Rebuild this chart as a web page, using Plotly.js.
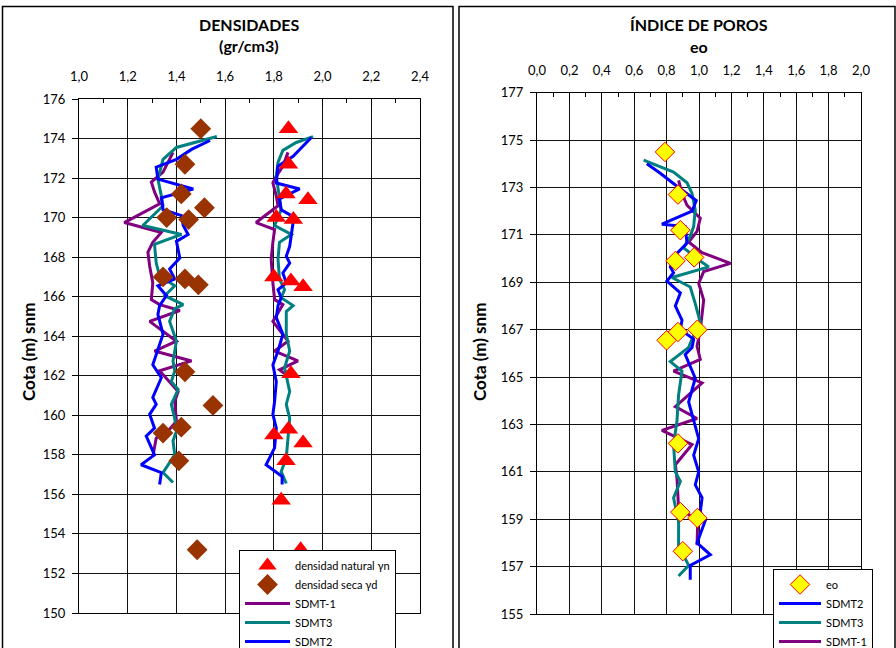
<!DOCTYPE html>
<html>
<head>
<meta charset="utf-8">
<script src="https://cdn.plot.ly/plotly-3.0.1.min.js"></script>
<style>html,body{margin:0;padding:0;background:#fff;}#chart{width:896px;height:648px;}</style>
</head>
<body>
<div id="chart"></div>
<script>
// ---------- DENSIDADES (gr/cm3) ----------
// densidad natural yn (markers)
var ynX = [1.86,1.86,1.85,1.94,1.81,1.88,1.80,1.87,1.92,1.87,1.80,1.86,1.92,1.85,1.83,1.91];
var ynZ = [174.5,172.7,171.2,170.9,170.0,169.9,167.0,166.8,166.5,162.1,159.0,159.3,158.6,157.7,155.7,153.2];
// densidad seca yd (markers)
var ydX = [1.50,1.435,1.42,1.515,1.36,1.45,1.345,1.435,1.49,1.435,1.55,1.42,1.345,1.41,1.485];
var ydZ = [174.5,172.7,171.2,170.5,170.0,169.9,167.0,166.9,166.6,162.2,160.5,159.4,159.1,157.7,153.2];

// SDMT-1 dry / natural
var s1dX = [1.386,1.366,1.345,1.297,1.31,1.331,1.186,1.338,1.303,1.283,1.29,1.303,1.297,1.331,1.414,1.29,1.40,1.31,1.462,1.331,1.407,1.393,1.40,1.372,1.317,1.303];
var s1dZ = [173.3,172.8,172.3,171.8,171.3,170.7,169.75,169.25,168.75,168.25,167.55,166.7,165.85,165.6,165.3,164.75,163.75,163.25,162.75,162.25,161.2,160.7,159.7,159.3,158.85,157.9];
var s1nX = [1.858,1.837,1.81,1.796,1.81,1.817,1.727,1.803,1.796,1.789,1.796,1.803,1.837,1.796,1.858,1.803,1.899,1.823,1.851];
var s1nZ = [173.3,172.6,172.1,171.75,171.1,170.6,169.75,169.4,168.75,167.9,166.7,165.85,165.6,164.75,163.75,163.25,162.75,162.3,162.05];

// SDMT3 dry / natural
var s3dX = [1.566,1.40,1.345,1.324,1.338,1.345,1.262,1.421,1.31,1.317,1.331,1.393,1.352,1.428,1.393,1.372,1.40,1.386,1.393,1.379,1.407,1.379,1.393,1.40,1.386,1.393,1.345,1.386];
var s3dZ = [174.1,173.55,172.95,171.95,171.1,170.6,169.6,169.15,168.65,167.7,167.05,166.55,166.05,165.6,165.4,164.75,163.75,162.75,162.25,161.7,161.3,160.55,159.85,159.2,158.7,158.0,157.1,156.6];
var s3nX = [1.961,1.892,1.837,1.817,1.81,1.823,1.83,1.803,1.872,1.823,1.817,1.823,1.844,1.83,1.879,1.851,1.851,1.865,1.844,1.865,1.851,1.865,1.858,1.851,1.83,1.851];
var s3nZ = [174.1,173.8,173.4,172.8,172.1,171.1,170.4,169.6,169.15,168.75,167.9,166.9,166.35,165.95,165.55,165.25,164.1,163.25,162.4,161.2,160.55,159.85,158.7,157.85,157.15,156.55];

// SDMT2 dry / natural
var s2dX = [1.538,1.462,1.40,1.317,1.324,1.469,1.338,1.345,1.421,1.428,1.448,1.40,1.414,1.372,1.393,1.324,1.359,1.331,1.324,1.345,1.303,1.338,1.303,1.317,1.29,1.31,1.276,1.31,1.255,1.338,1.331];
var s2dZ = [173.9,173.45,172.95,172.55,171.95,171.45,171.0,170.4,170.1,169.6,169.15,168.8,167.95,167.4,166.9,166.55,166.05,165.55,165.1,164.1,162.55,161.9,160.9,160.55,160.05,159.35,158.95,158.0,157.5,157.1,156.5];
var s2nX = [1.954,1.913,1.879,1.817,1.81,1.906,1.823,1.83,1.865,1.879,1.872,1.865,1.851,1.865,1.837,1.851,1.817,1.83,1.817,1.81,1.837,1.817,1.796,1.81,1.803,1.796,1.81,1.803,1.768,1.834,1.834];
var s2nZ = [174.05,173.55,173.1,172.6,171.75,171.45,170.95,170.4,170.15,169.75,169.05,168.55,168.05,167.7,167.2,166.7,166.35,165.95,165.55,164.95,164.1,163.25,162.55,161.7,160.7,160.05,159.35,158.35,157.5,156.9,156.5];

// ---------- ÍNDICE DE POROS eo ----------
var eoX = [0.79,0.87,0.885,0.855,0.97,0.99,0.87,0.80,0.87,0.885,0.99,0.90];
var eoZ = [174.5,172.7,171.2,169.9,170.05,167.0,166.9,166.55,162.2,159.3,159.05,157.65];

var e2X = [0.678,0.761,0.864,0.983,0.957,0.771,0.915,0.926,0.854,0.823,0.843,0.802,0.885,0.854,0.895,0.885,0.967,0.957,0.915,0.977,0.936,0.977,0.998,0.967,0.998,0.977,1.019,1.008,1.039,0.988,1.07,0.946,0.946];
var e2Z = [174.0,173.6,173.05,172.45,172.0,171.45,171.35,170.65,170.15,169.65,169.4,169.05,168.55,168.0,167.4,167.0,166.6,166.25,165.95,164.95,163.95,163.0,162.4,161.7,161.0,160.45,159.9,159.3,158.95,158.0,157.5,157.05,156.45];
var e3X = [0.658,0.843,0.926,0.957,0.977,0.967,0.946,0.905,1.008,1.06,0.833,0.946,0.977,1.008,0.957,0.936,0.823,0.895,0.874,0.864,0.843,0.854,0.885,0.843,0.874,0.874,0.936,0.874];
var e3Z = [174.15,173.65,173.2,172.75,172.05,171.35,170.95,170.45,169.9,169.65,169.2,168.8,168.1,167.3,166.6,166.25,165.65,165.25,164.25,163.15,162.15,161.0,160.6,159.9,158.9,157.9,157.05,156.6];
var e1X = [0.874,0.895,0.926,1.008,0.988,0.936,1.019,1.194,1.029,0.998,1.029,1.019,1.008,0.988,1.008,0.843,1.019,0.854,0.988,0.771,0.916,0.957,0.854,0.864,0.874,0.936,0.992,0.988];
var e1Z = [173.3,172.75,172.25,171.7,171.15,170.7,170.25,169.8,169.45,168.95,168.25,167.55,167.0,166.3,165.75,165.25,164.75,163.75,163.25,162.75,162.3,162.15,161.3,160.75,159.45,159.2,158.9,157.9];

var PURPLE = '#800080', TEAL = '#008080', BLUE = '#0000FF';
var FONT = 'Lato, "Open Sans", sans-serif';

function line(x, y, color, name, show, rank, xa, ya, leg) {
  return {type:'scatter', mode:'lines', x:x, y:y, name:name, showlegend:show,
    legendgroup:name + (leg||''), legendrank:rank, legend: leg || 'legend',
    xaxis:xa, yaxis:ya, line:{color:color, width:3}, hoverinfo:'x+y'};
}

var traces = [
  line(s1dX, s1dZ, PURPLE, 'SDMT-1', true, 3, 'x', 'y'),
  line(s1nX, s1nZ, PURPLE, 'SDMT-1', false, 3, 'x', 'y'),
  line(s3dX, s3dZ, TEAL, 'SDMT3', true, 4, 'x', 'y'),
  line(s3nX, s3nZ, TEAL, 'SDMT3', false, 4, 'x', 'y'),
  line(s2dX, s2dZ, BLUE, 'SDMT2', true, 5, 'x', 'y'),
  line(s2nX, s2nZ, BLUE, 'SDMT2', false, 5, 'x', 'y'),
  {type:'scatter', mode:'markers', x:ynX, y:ynZ, name:'densidad natural γn', legendrank:1,
   xaxis:'x', yaxis:'y', marker:{symbol:'triangle-up', size:17, color:'#FF0000'}},
  {type:'scatter', mode:'markers', x:ydX, y:ydZ, name:'densidad seca γd', legendrank:2,
   xaxis:'x', yaxis:'y', marker:{symbol:'diamond', size:16, color:'#993300'}},

  line(e1X, e1Z, PURPLE, 'SDMT-1', true, 4, 'x2', 'y2', 'legend2'),
  line(e3X, e3Z, TEAL, 'SDMT3', true, 3, 'x2', 'y2', 'legend2'),
  line(e2X, e2Z, BLUE, 'SDMT2', true, 2, 'x2', 'y2', 'legend2'),
  {type:'scatter', mode:'markers', x:eoX, y:eoZ, name:'eo', legendrank:1, legend:'legend2',
   xaxis:'x2', yaxis:'y2', marker:{symbol:'diamond', size:15, color:'#FFFF00', line:{color:'#FF0000', width:1}}}
];

var W = 896, H = 648;
function px(v){return v/W;}
function py(v){return 1 - v/H;}

var xCommon = {side:'top', showgrid:true, gridcolor:'#111', gridwidth:1, showline:true, linecolor:'#000', linewidth:1, mirror:true,
  ticks:'inside', ticklen:7, tickcolor:'#000', dtick:0.2, tickformat:'.1f', ticklabelstandoff:12,
  minor:{ticks:'inside', ticklen:4, dtick:0.1, tickcolor:'#000', showgrid:false},
  tickfont:{family:FONT, size:13, color:'#000'}, zeroline:false, fixedrange:true, automargin:false};
var yCommon = {showgrid:true, gridcolor:'#111', gridwidth:1, showline:true, linecolor:'#000', linewidth:1, mirror:true,
  ticks:'outside', ticklen:6, tickcolor:'#000', dtick:2, ticklabelstandoff:4,
  tickfont:{family:FONT, size:13, color:'#000'}, zeroline:false, fixedrange:true, automargin:false};

function ann(x, y, text, size, angle) {
  return {xref:'paper', yref:'paper', x:px(x), y:py(y), xanchor:'center', yanchor:'middle',
    text:text, textangle:angle || 0, showarrow:false, font:{family:FONT, size:size, color:'#000'}};
}

var layout = {
  width:W, height:H, margin:{l:0, r:0, t:0, b:0, autoexpand:false}, paper_bgcolor:'#fff', plot_bgcolor:'#fff',
  separators:',.', font:{family:FONT, color:'#000'},
  xaxis: Object.assign({}, xCommon, {domain:[px(79), px(420)], range:[1.0, 2.4], anchor:'y'}),
  yaxis: Object.assign({}, yCommon, {domain:[py(613), py(99)], range:[150, 176], tick0:150, anchor:'x'}),
  xaxis2: Object.assign({}, xCommon, {domain:[px(537), px(861)], range:[0, 2.0], anchor:'y2'}),
  yaxis2: Object.assign({}, yCommon, {domain:[py(614), py(92.7)], range:[155, 177], tick0:155, anchor:'x2'}),
  legend: {x:px(239), y:py(550), xanchor:'left', yanchor:'top', bgcolor:'#fff', bordercolor:'#000', borderwidth:1,
    font:{family:FONT, size:11, color:'#000'}, tracegroupgap:0, traceorder:'normal', itemwidth:45},
  legend2: {x:px(773), y:py(569), xanchor:'left', yanchor:'top', bgcolor:'#fff', bordercolor:'#000', borderwidth:1,
    font:{family:FONT, size:11, color:'#000'}, tracegroupgap:0, traceorder:'normal', itemwidth:42},
  shapes: [
    {type:'rect', xref:'paper', yref:'paper', x0:px(2.5), x1:px(453), y0:-0.05, y1:py(6.5), line:{color:'#000', width:1.5}, layer:'below'},
    {type:'rect', xref:'paper', yref:'paper', x0:px(459), x1:px(895), y0:-0.05, y1:py(6.5), line:{color:'#000', width:1.5}, layer:'below'}
  ],
  annotations: [
    ann(249, 25, '<b>DENSIDADES</b>', 16),
    ann(249, 46, '<b>(gr/cm3)</b>', 16),
    ann(699, 25, '<b>ÍNDICE DE POROS</b>', 16),
    ann(699, 47, '<b>eo</b>', 16),
    ann(28, 352, '<b>Cota (m) snm</b>', 17, -90),
    ann(479, 352, '<b>Cota (m) snm</b>', 17, -90)
  ]
};

Plotly.newPlot('chart', traces, layout, {displayModeBar:false, staticPlot:true});
</script>
</body>
</html>
